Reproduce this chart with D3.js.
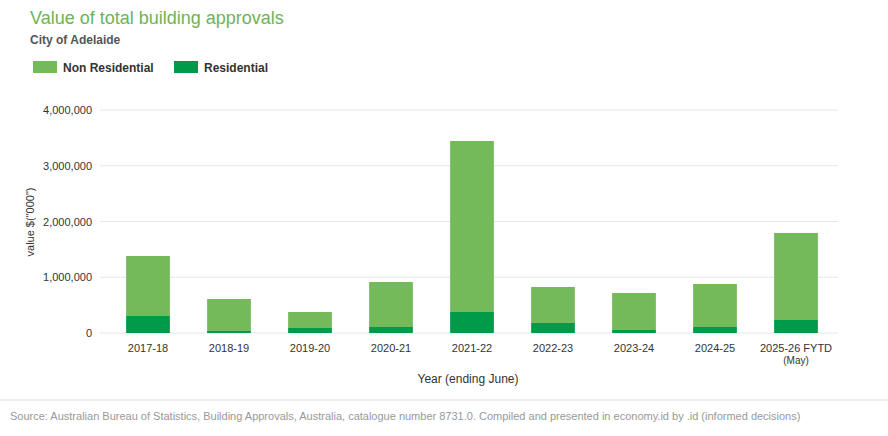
<!DOCTYPE html>
<html lang="en">
<head>
<meta charset="UTF-8">
<script src="https://d3js.org/d3.v7.min.js"></script>
<style>
body{margin:0;background:#fff;font-family:Arial,"Liberation Sans",sans-serif;}
</style>
</head>
<body>
<svg id="chart" width="888" height="436"></svg>
<script>
// values in $'000
var years = ["2017-18","2018-19","2019-20","2020-21","2021-22","2022-23","2023-24","2024-25","2025-26 FYTD|(May)"];
var residential = [305000, 36000, 90000, 108000, 377000, 180000, 54000, 108000, 233000];
var nonResidential = [1076000, 574000, 287000, 807000, 3067000, 645000, 663000, 771000, 1561000];
var yTicks = [0, 1000000, 2000000, 3000000, 4000000];

var svg = d3.select("#chart");
var x = d3.scaleBand().domain(years).range([107.5, 836.5]).paddingInner(0.46).paddingOuter(0.23);
var y = d3.scaleLinear().domain([0, 4000000]).range([333, 110]);

// grid
svg.selectAll(".grid").data(yTicks).enter().append("line")
    .attr("x1", 100).attr("x2", 838)
    .attr("y1", function(d){ return y(d); }).attr("y2", function(d){ return y(d); })
    .attr("stroke", "#e6e6e6");

svg.selectAll(".ylab").data(yTicks).enter().append("text")
    .attr("x", 92).attr("y", function(d){ return y(d) + 4; })
    .attr("text-anchor", "end").style("font-size", "11px").attr("fill", "#333")
    .text(function(d){ return d3.format(",")(d); });

var bw = x.bandwidth();
svg.selectAll(".res").data(years).enter().append("rect")
    .attr("x", function(d){ return x(d); }).attr("width", bw)
    .attr("y", function(d, i){ return y(residential[i]); })
    .attr("height", function(d, i){ return y(0) - y(residential[i]); })
    .attr("fill", "#009b48");
svg.selectAll(".nonres").data(years).enter().append("rect")
    .attr("x", function(d){ return x(d); }).attr("width", bw)
    .attr("y", function(d, i){ return y(residential[i] + nonResidential[i]); })
    .attr("height", function(d, i){ return y(0) - y(nonResidential[i]); })
    .attr("fill", "#74b95a");

// x labels
svg.selectAll(".xlab").data(years).enter().append("text")
    .attr("x", function(d){ return x(d) + bw / 2; }).attr("y", 352)
    .attr("text-anchor", "middle").style("font-size", "11px").attr("fill", "#333")
    .each(function(d){
        var parts = d.split("|");
        var t = d3.select(this);
        parts.forEach(function(p, k){
            t.append("tspan").attr("x", x(d) + bw / 2).attr("dy", k ? 12 : 0)
                .style("font-size", k ? "10px" : "11px").text(p);
        });
    });

svg.append("text").attr("x", 468).attr("y", 383).attr("text-anchor", "middle")
    .style("font-size", "12px").attr("fill", "#333").text("Year (ending June)");
svg.append("text").attr("transform", "translate(34,222) rotate(-90)").attr("text-anchor", "middle")
    .style("font-size", "11px").attr("fill", "#333").text("value $(\"000\")");

// title
svg.append("text").attr("x", 30).attr("y", 24).style("font-size", "18px").attr("fill", "#6db356")
    .text("Value of total building approvals");
svg.append("text").attr("x", 30).attr("y", 44).style("font-size", "12px").style("font-weight", "bold")
    .attr("fill", "#555").text("City of Adelaide");

// legend
var legend = [["Non Residential", "#74b95a", 33], ["Residential", "#009b48", 174]];
legend.forEach(function(l){
    svg.append("rect").attr("x", l[2]).attr("y", 61).attr("width", 24).attr("height", 12).attr("fill", l[1]);
    svg.append("text").attr("x", l[2] + 30).attr("y", 72).style("font-size", "12px")
        .style("font-weight", "bold").attr("fill", "#333").text(l[0]);
});

// footer
svg.append("line").attr("x1", 0).attr("x2", 888).attr("y1", 400).attr("y2", 400).attr("stroke", "#ddd");
svg.append("text").attr("x", 10).attr("y", 420).style("font-size", "11px").attr("fill", "#999")
    .text("Source: Australian Bureau of Statistics, Building Approvals, Australia, catalogue number 8731.0. Compiled and presented in economy.id by .id (informed decisions)");
</script>
</body>
</html>
